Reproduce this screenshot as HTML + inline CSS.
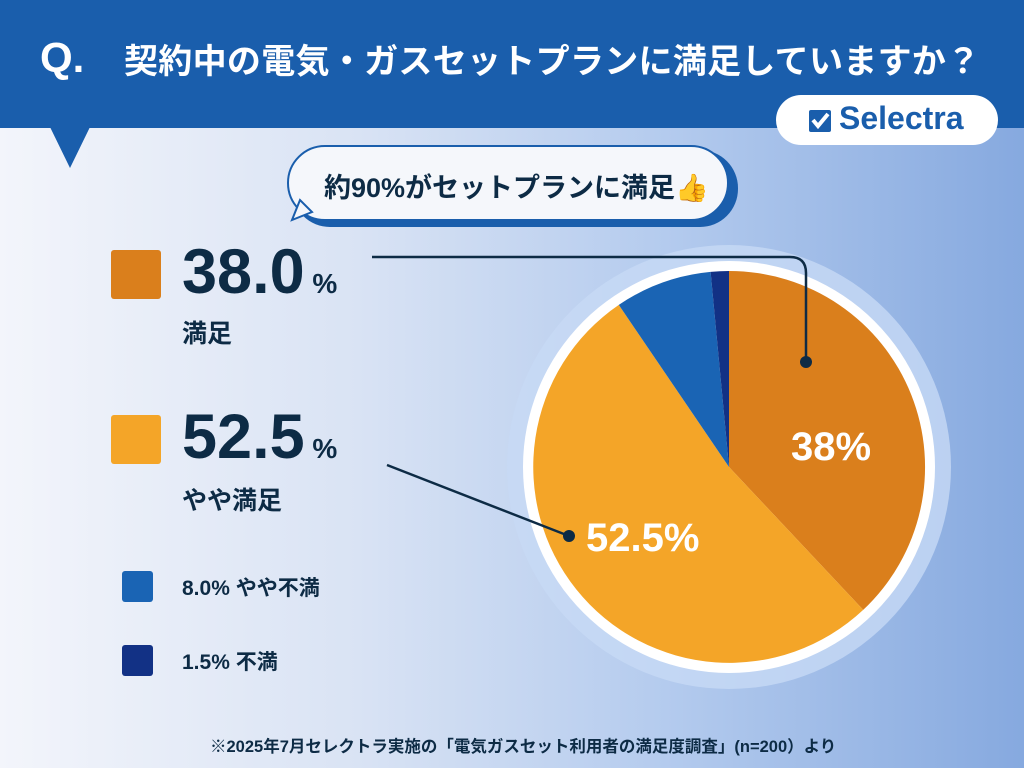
<!DOCTYPE html>
<html><head><meta charset="utf-8"><style>
body{margin:0;width:1024px;height:768px;overflow:hidden;font-family:"Liberation Sans","Noto Sans CJK JP",sans-serif;}
.bg{position:absolute;left:0;top:0;width:1024px;height:768px;background:linear-gradient(90deg,#f3f5fb 0%,#d9e3f4 35%,#b4cbee 65%,#86a9df 100%);}
.hdr{position:absolute;left:0;top:0;width:1024px;height:128px;background:#1a5eac;}
.t{position:absolute;color:#fff;font-weight:bold;white-space:nowrap;}
.dk{position:absolute;color:#0d2b45;font-weight:bold;white-space:nowrap;}
</style></head><body>
<div class="bg"></div>
<div class="hdr"></div>
<svg style="position:absolute;left:0;top:0" width="1024" height="768">
<polygon points="50,127 90,127 70,168" fill="#1a5eac"/>
<rect x="776" y="95" width="222" height="50" rx="25" fill="#fff"/>
<rect x="809" y="110" width="22" height="22" fill="#1a5eac" rx="2"/>
<path d="M813,120 l5,6 l10,-12" stroke="#fff" stroke-width="4" fill="none"/>
<rect x="292" y="150" width="446" height="77" rx="38" fill="#1a5eac"/>
<rect x="288" y="146" width="440" height="74" rx="37" fill="#f5f7fb" stroke="#1a5eac" stroke-width="2"/>
<polygon points="300,200 292,220 312,212" fill="#f5f7fb" stroke="#1a5eac" stroke-width="2"/>
<circle cx="729" cy="467" r="222" fill="#c7d9f5" opacity="0.8"/>
<circle cx="729" cy="467" r="206" fill="#fff"/>
<path d="M729,467 L729,271 A196,196 0 0 1 863.2,609.9 Z" fill="#da7f1c"/>
<path d="M729,467 L863.2,609.9 A196,196 0 1 1 618.8,304.9 Z" fill="#f4a528"/>
<path d="M729,467 L618.8,304.9 A196,196 0 0 1 710.6,271.9 Z" fill="#1a64b4"/>
<path d="M729,467 L710.6,271.9 A196,196 0 0 1 729,271 Z" fill="#123185"/>
<path d="M372,257 L790,257 Q806,257 806,273 L806,362" stroke="#0d2b45" stroke-width="2.5" fill="none"/>
<circle cx="806" cy="362" r="6" fill="#0d2b45"/>
<line x1="387" y1="465" x2="569" y2="536" stroke="#0d2b45" stroke-width="2.5"/>
<circle cx="569" cy="536" r="6" fill="#0d2b45"/>
<rect x="111" y="250" width="50" height="49" rx="3" fill="#da7f1c"/>
<rect x="111" y="415" width="50" height="49" rx="3" fill="#f4a528"/>
<rect x="122" y="571" width="31" height="31" rx="3" fill="#1a64b4"/>
<rect x="122" y="645" width="31" height="31" rx="3" fill="#123185"/>
</svg>
<div class="t" style="left:40px;top:34px;font-size:42px;">Q.</div>
<div class="t" style="left:124px;top:34px;font-size:34px;letter-spacing:0.3px">契約中の電気・ガスセットプランに満足していますか？</div>
<div style="position:absolute;left:839px;top:100px;font-size:32px;font-weight:bold;color:#1a5eac">Selectra</div>
<div class="dk" style="left:324px;top:166px;font-size:27px;">約90%がセットプランに満足👍</div>
<div class="dk" style="left:182px;top:236px;font-size:63px;">38.0<span style="font-size:28px"> %</span></div>
<div class="dk" style="left:182px;top:314px;font-size:25px;">満足</div>
<div class="dk" style="left:182px;top:401px;font-size:63px;">52.5<span style="font-size:28px"> %</span></div>
<div class="dk" style="left:182px;top:481px;font-size:25px;">やや満足</div>
<div class="dk" style="left:182px;top:572px;font-size:21px;">8.0% やや不満</div>
<div class="dk" style="left:182px;top:646px;font-size:21px;">1.5% 不満</div>
<div class="t" style="left:791px;top:425px;font-size:40px;">38%</div>
<div class="t" style="left:586px;top:516px;font-size:40px;">52.5%</div>
<div class="dk" style="left:210px;top:733px;font-size:16.5px;">※2025年7月セレクトラ実施の「電気ガスセット利用者の満足度調査」(n=200）より</div>
</body></html>
